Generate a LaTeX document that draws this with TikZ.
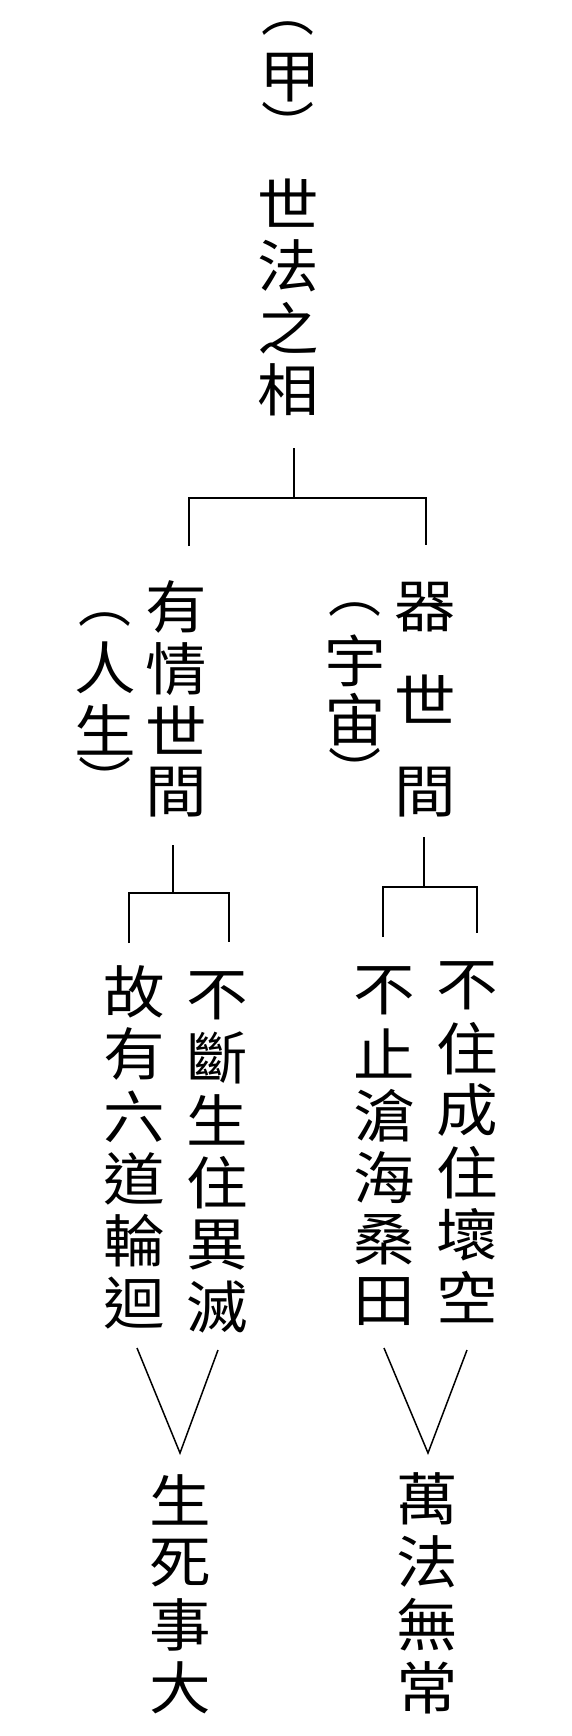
\documentclass[tikz,border=0pt]{standalone}
\usepackage{fontspec}
\usepackage{tikz}
\newfontfamily\cjk[FakeStretch=1.08]{Noto Sans CJK TC}
\newfontfamily\cjkk{Noto Sans CJK TC}
\newcommand*{\fs}{57}

\begin{document}
\begin{tikzpicture}[
   x=1pt, y=-1pt,
   zi/.style={inner sep=0, text=black, font=\cjk\fontsize{\fs}{\fs}\selectfont},
   kuo/.style={inner sep=0, text=black, font=\cjkk\fontsize{53}{53}\selectfont},
   branch/.style={draw=black, line width=1.5}
  ]
  \useasboundingbox (0, 0) rectangle (572, 1736);

  % Line Spacing
  \pgfmathsetmacro{\p}{62.2}

  % Title
  \node (P1) at (288, 29) [kuo] {︵};
  \node (P2) at (290, 78) [zi] {甲};
  \node (P3) at (288, 124) [kuo] {︶};
  \foreach \c [count=\i] in {世, 法, 之, 相} {
    \node (T\i) at (288, 203 + 62.4 * \i - 62.4) [zi] {\c};
  }

  % Second level
  \foreach \c [count=\i] in {有, 情, 世, 間} {
    \node (L\i) at (176, 607 + 61.7 * \i - 61.7) [zi] {\c};
  }
  \foreach \c/\y/\s [count=\i] in {︵/620/kuo, 人/668/zi, 生/730/zi, ︶/779/kuo} {
    \node (M\i) at (105, \y) [\s] {\c};
  }
  \foreach \c/\y [count=\i] in {器/607, 世/699, 間/792} {
    \node (R\i) at (425, \y) [zi] {\c};
  }
  \foreach \c/\y/\s [count=\i] in {︵/610/kuo, 宇/661/zi, 宙/720/zi, ︶/770/kuo} {
    \node (U\i) at (355, \y) [\s] {\c};
  }

  % Third level
  \foreach \c [count=\i] in {故, 有, 六, 道, 輪, 迴} {
    \node (A\i) at (134, 992 + \p * \i - \p) [zi] {\c};
  }
  \foreach \c [count=\i] in {不, 斷, 生, 住, 異, 滅} {
    \node (B\i) at (217, 996 + \p * \i - \p) [zi] {\c};
  }
  \foreach \c [count=\i] in {不, 止, 滄, 海, 桑, 田} {
    \node (C\i) at (384, 991 + \p * \i - \p) [zi] {\c};
  }
  \foreach \c [count=\i] in {不, 住, 成, 住, 壞, 空} {
    \node (D\i) at (467, 986 + \p * \i - \p) [zi] {\c};
  }

  % Conclusions
  \foreach \c [count=\i] in {生, 死, 事, 大} {
    \node (E\i) at (180, 1500 + 62.7 * \i - 62.7) [zi] {\c};
  }
  \foreach \c [count=\i] in {萬, 法, 無, 常} {
    \node (F\i) at (427, 1499 + 63 * \i - 63) [zi] {\c};
  }

  % Brackets
  \coordinate (s0) at (294, 448);
  \coordinate (j0) at (294, 498);
  \coordinate (l0) at (189, 546);
  \coordinate (r0) at (426, 545);

  \coordinate (s1) at (173, 845);
  \coordinate (j1) at (173, 893);
  \coordinate (l1) at (129, 943);
  \coordinate (r1) at (229, 942);

  \coordinate (s2) at (424, 837);
  \coordinate (j2) at (424, 887);
  \coordinate (l2) at (383, 937);
  \coordinate (r2) at (477, 933);

  \foreach \n in {0, 1, 2} {
    \draw[branch] (s\n) -- (j\n);
    \draw[branch] (l\n) |- (j\n) -| (r\n);
  }

  % Funnels
  \coordinate (va) at (137, 1348);
  \coordinate (vb) at (180, 1453);
  \coordinate (vc) at (218, 1350);
  \coordinate (wa) at (384, 1348);
  \coordinate (wb) at (428, 1453);
  \coordinate (wc) at (467, 1350);

  \draw[branch] (va) -- (vb) -- (vc);
  \draw[branch] (wa) -- (wb) -- (wc);

\end{tikzpicture}
\end{document}
